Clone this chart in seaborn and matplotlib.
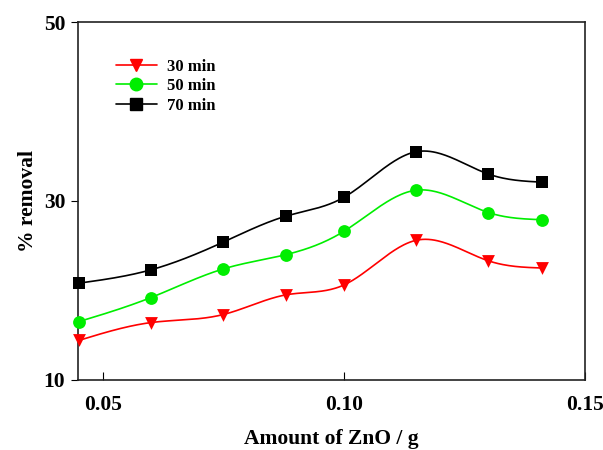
import matplotlib
matplotlib.use("Agg")
import matplotlib.pyplot as plt
import numpy as np
import pandas as pd
import seaborn as sns

# ZnO dose (g) and % removal at three contact times
zno_amount = [0.045, 0.060, 0.075, 0.088, 0.100, 0.115, 0.130, 0.141]
removal_30 = [14.4, 16.4, 17.3, 19.5, 20.6, 25.6, 23.3, 22.5]
removal_50 = [16.5, 19.2, 22.4, 24.0, 26.6, 31.2, 28.7, 27.9]
removal_70 = [20.8, 22.3, 25.4, 28.3, 30.4, 35.5, 33.0, 32.1]
series = {"30 min": removal_30, "50 min": removal_50, "70 min": removal_70}
styles = {"30 min": ("red", "v"), "50 min": ("#00ee00", "o"), "70 min": ("black", "s")}


def natural_spline(x, y, n=300):
    # natural cubic spline, only used to draw the smooth connecting line
    x = np.asarray(x, float)
    y = np.asarray(y, float)
    k = len(x)
    h = np.diff(x)
    A = np.zeros((k, k))
    b = np.zeros(k)
    A[0, 0] = A[-1, -1] = 1
    for i in range(1, k - 1):
        A[i, i - 1] = h[i - 1]
        A[i, i] = 2 * (h[i - 1] + h[i])
        A[i, i + 1] = h[i]
        b[i] = 6 * ((y[i + 1] - y[i]) / h[i] - (y[i] - y[i - 1]) / h[i - 1])
    M = np.linalg.solve(A, b)
    xs = np.linspace(x[0], x[-1], n)
    idx = np.clip(np.searchsorted(x, xs) - 1, 0, k - 2)
    x0, x1 = x[idx], x[idx + 1]
    hh = x1 - x0
    t0, t1 = x1 - xs, xs - x0
    ys = (M[idx] * t0 ** 3 + M[idx + 1] * t1 ** 3) / (6 * hh) \
        + (y[idx] / hh - M[idx] * hh / 6) * t0 \
        + (y[idx + 1] / hh - M[idx + 1] * hh / 6) * t1
    return xs, ys


sns.set_style("ticks")
plt.rcParams["font.family"] = ["Liberation Serif", "DejaVu Serif"]
plt.rcParams["font.weight"] = "bold"
plt.rcParams["text.color"] = "black"
plt.rcParams["axes.labelcolor"] = "black"
plt.rcParams["xtick.color"] = "black"
plt.rcParams["ytick.color"] = "black"
plt.rcParams["axes.edgecolor"] = "#222222"

df = pd.DataFrame([(x, v, name) for name, vals in series.items()
                   for x, v in zip(zno_amount, vals)],
                  columns=["amount", "removal", "time"])

fig, ax = plt.subplots(figsize=(6.03, 4.5), dpi=100)
fig.subplots_adjust(left=0.129, right=0.970, top=0.951, bottom=0.156)

for name in series:
    color, marker = styles[name]
    sub = df[df["time"] == name]
    xs, ys = natural_spline(sub["amount"], sub["removal"])
    ax.plot(xs, ys, color=color, lw=1.2, zorder=2)
    sns.scatterplot(x="amount", y="removal", data=sub, ax=ax, color=color,
                    marker=marker, s=85, edgecolor=color, linewidth=0,
                    zorder=3, legend=False, clip_on=False)

handles = [plt.Line2D([], [], color=styles[n][0], marker=styles[n][1],
                      markersize=9, lw=1.2, label=n) for n in series]
ax.legend(handles=handles, loc="upper left", bbox_to_anchor=(0.045, 0.94),
          frameon=False, handlelength=2.5, handletextpad=0.6, labelspacing=0.22,
          prop={"weight": "bold", "size": 12})

ax.set_xlim(0.0448, 0.15)
ax.set_ylim(10, 50)
ax.set_xticks([0.05, 0.10, 0.15])
ax.set_xticklabels(["0.05", "0.10", "0.15"])
ax.set_yticks([10, 30, 50])
ax.tick_params(axis="x", direction="in", length=6, pad=11, labelsize=15.5)
ax.tick_params(axis="y", direction="out", length=5, pad=4, labelsize=15.5)
for tl in ax.get_xticklabels() + ax.get_yticklabels():
    tl.set_fontweight("bold")
for sp in ax.spines.values():
    sp.set_visible(True)
    sp.set_linewidth(1.2)

ax.set_xlabel("Amount of ZnO / g", fontsize=15.5, fontweight="bold", labelpad=10)
ax.set_ylabel("% removal", fontsize=15.5, fontweight="bold", labelpad=4)

fig.savefig("out.png", dpi=100)
